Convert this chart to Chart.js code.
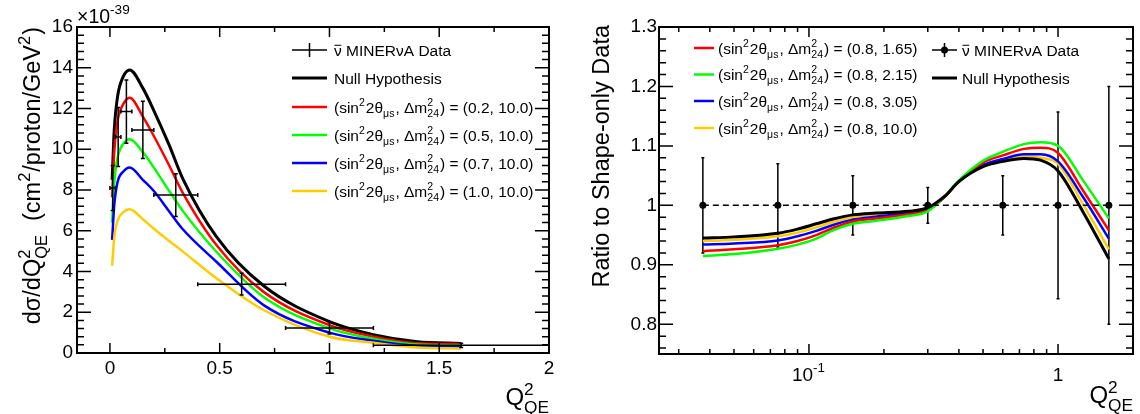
<!DOCTYPE html>
<html><head><meta charset="utf-8">
<script src="https://cdn.jsdelivr.net/npm/chart.js@4/dist/chart.umd.min.js"></script>
<style>
html,body{margin:0;padding:0;background:#fff;}
#wrap{position:relative;width:1140px;height:414px;overflow:hidden;}
canvas{position:absolute;top:0;}
</style>
</head><body>
<div id="wrap">
<canvas id="cl" width="570" height="414" style="left:0px"></canvas>
<canvas id="cr" width="570" height="414" style="left:570px"></canvas>
</div>
<script>
// ---------------- LEFT PANEL DATA ----------------
const leftXTicks = [0, 0.5, 1, 1.5, 2];
const leftXLabels = ['0', '0.5', '1', '1.5', '2'];
const leftYTicks = [0, 2, 4, 6, 8, 10, 12, 14, 16];
const leftYLabels = ['0', '2', '4', '6', '8', '10', '12', '14', '16'];

const dataBinLow  = [0, 0.025, 0.05, 0.1, 0.2, 0.4, 0.8, 1.2];
const dataBinHigh = [0.025, 0.05, 0.1, 0.2, 0.4, 0.8, 1.2, 2.0];
const dataQ2      = [0.0125, 0.0375, 0.075, 0.15, 0.3, 0.6, 1.0, 1.6];
const dataXsec    = [8.1, 10.6, 11.85, 10.95, 7.75, 3.38, 1.23, 0.375];
const dataXsecErr = [1.1, 1.45, 1.55, 1.4, 1.05, 0.53, 0.3, 0.1];

const curveQ2  = [0.01, 0.02, 0.035, 0.06, 0.09, 0.15, 0.2, 0.27, 0.33, 0.485, 0.7, 1.0, 1.2, 1.4, 1.6];
const xsecNull = [8.5, 11.0, 12.6, 13.55, 13.89, 13.0, 11.9, 10.2, 8.6, 5.71, 3.3, 1.54, 0.9, 0.55, 0.47];
const xsecS02  = [7.64, 9.9, 11.4, 12.2, 12.53, 11.6, 10.65, 9.2, 7.9, 5.30, 3.0, 1.37, 0.8, 0.48, 0.43];
const xsecS05  = [6.4, 8.4, 9.6, 10.25, 10.49, 9.85, 9.1, 7.95, 7.0, 4.97, 2.75, 1.21, 0.7, 0.42, 0.38];
const xsecS07  = [5.55, 7.3, 8.4, 8.9, 9.11, 8.5, 7.95, 6.95, 6.1, 4.48, 2.35, 1.0, 0.6, 0.35, 0.32];
const xsecS10  = [4.29, 5.7, 6.5, 6.9, 7.05, 6.56, 6.1, 5.5, 5.0, 3.67, 2.11, 0.80, 0.5, 0.27, 0.22];

const leftSin2 = ['0.2', '0.5', '0.7', '1.0'];
const leftDm2  = ['10.0', '10.0', '10.0', '10.0'];

// ---------------- RIGHT PANEL DATA ----------------
const rightXTicks = [0.1, 1];
const rightXLabels = [['10', {sup: '-1'}], ['1']];
const rightYTicks = [0.8, 0.9, 1.0, 1.1, 1.2, 1.3];
const rightYLabels = ['0.8', '0.9', '1', '1.1', '1.2', '1.3'];

const ratioQ2  = [0.0375, 0.075, 0.15, 0.3, 0.6, 1.0, 1.6];
const ratioVal = [1, 1, 1, 1, 1, 1, 1];
const ratioErr = [0.08, 0.07, 0.05, 0.03, 0.05, 0.157, 0.2];

const ratioCurveQ2 = [0.0375, 0.05, 0.075, 0.09, 0.107, 0.125, 0.15, 0.186, 0.25, 0.3, 0.35, 0.4, 0.5, 0.6, 0.73, 0.85, 1.0, 1.26, 1.6];
const ratioNull = [0.945, 0.947, 0.953, 0.960, 0.969, 0.977, 0.984, 0.987, 0.990, 0.996, 1.015, 1.040, 1.065, 1.074, 1.079, 1.076, 1.058, 0.989, 0.910];
const ratioD165 = [0.923, 0.926, 0.933, 0.940, 0.950, 0.962, 0.973, 0.978, 0.985, 0.992, 1.014, 1.041, 1.072, 1.084, 1.095, 1.097, 1.088, 1.025, 0.958];
const ratioD215 = [0.915, 0.918, 0.927, 0.934, 0.944, 0.958, 0.969, 0.974, 0.982, 0.990, 1.015, 1.042, 1.075, 1.090, 1.103, 1.106, 1.100, 1.042, 0.978];
const ratioD305 = [0.934, 0.936, 0.941, 0.948, 0.957, 0.967, 0.976, 0.981, 0.987, 0.993, 1.014, 1.041, 1.068, 1.078, 1.086, 1.086, 1.074, 1.014, 0.944];
const ratioD100 = [0.940, 0.942, 0.948, 0.954, 0.963, 0.972, 0.980, 0.984, 0.988, 0.994, 1.014, 1.040, 1.066, 1.075, 1.082, 1.080, 1.070, 1.002, 0.926];

const rightSin2 = ['0.8', '0.8', '0.8', '0.8'];
const rightDm2  = ['1.65', '2.15', '3.05', '10.0'];

// ---------------- STYLE ----------------
const FF = '"Liberation Sans", Arial, Helvetica, sans-serif';
const RED = '#ff0000', GREEN = '#00ff00', BLUE = '#0000ff', YEL = '#ffcc00', BLK = '#000000';
Chart.defaults.font.family = FF;
Chart.defaults.color = '#000';

function pts(xs, ys) { return xs.map((x, i) => ({x: x, y: ys[i]})); }
function curve(xs, ys, color, w) {
  return {data: pts(xs, ys), borderColor: color, backgroundColor: color, borderWidth: w,
          showLine: true, pointRadius: 0, pointHoverRadius: 0, fill: false, cubicInterpolationMode: 'monotone'};
}

// rich text: strings are normal text, objects {sup, sub} are stacked scripts
function rich(ctx, x, y, parts, size, o, draw) {
  o = o || {};
  const sr = o.sr || 0.7, up = o.up || 0.40, dn = o.dn || 0.25;
  let cx = x;
  for (const p of parts) {
    if (typeof p === 'string') {
      ctx.font = size + 'px ' + FF;
      if (draw !== false) ctx.fillText(p, cx, y);
      cx += ctx.measureText(p).width;
    } else {
      ctx.font = (size * sr) + 'px ' + FF;
      let w = 0;
      if (p.sup !== undefined) { if (draw !== false) ctx.fillText(p.sup, cx, y - size * up); w = Math.max(w, ctx.measureText(p.sup).width); }
      if (p.sub !== undefined) { if (draw !== false) ctx.fillText(p.sub, cx, y + size * dn); w = Math.max(w, ctx.measureText(p.sub).width); }
      cx += w + 1;
    }
  }
  return cx - x;
}
function oscParts(s, d) {
  return ['(sin', {sup: '2'}, '2\u03B8', {sub: '\u03BCs'}, ', \u0394m', {sup: '2', sub: '24'}, ') = (' + s + ', ' + d + ')'];
}
function nuBarText(ctx, x, y, size) {
  ctx.font = size + 'px ' + FF;
  const w = ctx.measureText('\u03BD').width;
  ctx.fillText('\u03BD', x, y);
  ctx.save(); ctx.lineWidth = 1; ctx.beginPath();
  ctx.moveTo(x + 0.5, y - size * 0.66); ctx.lineTo(x + w - 0.5, y - size * 0.66); ctx.stroke(); ctx.restore();
  ctx.fillText(' MINER\u03BDA Data', x + w, y);
}

function frameAndTicks(chart, cfg) {
  const ctx = chart.ctx, a = chart.chartArea, sx = chart.scales.x, sy = chart.scales.y;
  ctx.save();
  ctx.strokeStyle = '#000'; ctx.lineWidth = 1.5;
  ctx.beginPath();
  const yt = (list, len) => { for (const v of list) { const p = sy.getPixelForValue(v); if (p < a.top - 0.5 || p > a.bottom + 0.5) continue;
      ctx.moveTo(a.left, p); ctx.lineTo(a.left + len, p); ctx.moveTo(a.right, p); ctx.lineTo(a.right - len, p); } };
  const xt = (list, len) => { for (const v of list) { const p = sx.getPixelForValue(v); if (p < a.left - 0.5 || p > a.right + 0.5) continue;
      ctx.moveTo(p, a.bottom); ctx.lineTo(p, a.bottom - len); ctx.moveTo(p, a.top); ctx.lineTo(p, a.top + len); } };
  yt(cfg.yMajor, cfg.yMajLen); yt(cfg.yMinor, cfg.yMinLen);
  xt(cfg.xMajor, cfg.xMajLen); xt(cfg.xMinor, cfg.xMinLen);
  ctx.stroke();
  ctx.lineWidth = 2;
  ctx.strokeRect(a.left, a.top, a.right - a.left, a.bottom - a.top);
  ctx.restore();
}

function baseScale(extra) {
  return Object.assign({
    grid: {display: false, drawTicks: false}, border: {display: false}
  }, extra);
}

// ---------------- LEFT CHART ----------------
const leftMinorY = []; for (let v = 0; v <= 16.001; v += 0.4) if (Math.abs(v / 2 - Math.round(v / 2)) > 0.01) leftMinorY.push(v);
const leftMinorX = [0.25, 0.75, 1.25, 1.75];

const leftPlugin = {
  id: 'leftDeco',
  afterDatasetsDraw(chart) {
    const ctx = chart.ctx, sx = chart.scales.x, sy = chart.scales.y, a = chart.chartArea;
    ctx.save(); ctx.strokeStyle = '#000'; ctx.lineWidth = 1.5; ctx.beginPath();
    for (let i = 0; i < dataQ2.length; i++) {
      const px = sx.getPixelForValue(dataQ2[i]), py = sy.getPixelForValue(dataXsec[i]);
      const x1 = sx.getPixelForValue(dataBinLow[i]), x2 = Math.min(sx.getPixelForValue(dataBinHigh[i]), a.right);
      const y1 = sy.getPixelForValue(dataXsec[i] - dataXsecErr[i]), y2 = sy.getPixelForValue(dataXsec[i] + dataXsecErr[i]);
      ctx.moveTo(x1, py); ctx.lineTo(x2, py);
      ctx.moveTo(px, y1); ctx.lineTo(px, y2);
      ctx.moveTo(x1, py - 2); ctx.lineTo(x1, py + 2);
      ctx.moveTo(x2, py - 2); ctx.lineTo(x2, py + 2);
      ctx.moveTo(px - 2, y1); ctx.lineTo(px + 2, y1);
      ctx.moveTo(px - 2, y2); ctx.lineTo(px + 2, y2);
    }
    ctx.stroke(); ctx.restore();
  },
  afterDraw(chart) {
    const ctx = chart.ctx;
    frameAndTicks(chart, {yMajor: leftYTicks, yMinor: leftMinorY, yMajLen: 14, yMinLen: 7,
                          xMajor: leftXTicks, xMinor: leftMinorX, xMajLen: 10, xMinLen: 5});
    ctx.save(); ctx.fillStyle = '#000'; ctx.strokeStyle = '#000'; ctx.textBaseline = 'alphabetic';
    rich(ctx, 77, 23, ['\u00D710', {sup: '-39'}], 19.5, {sr: 0.7, up: 0.45});
    const rows = [50, 78, 107, 135, 163, 191];
    const LS = 15.5, lx1 = 292, lx2 = 327, tx = 334;
    ctx.lineWidth = 1.5; ctx.beginPath();
    ctx.moveTo(lx1, rows[0]); ctx.lineTo(lx2, rows[0]);
    ctx.moveTo((lx1 + lx2) / 2, rows[0] - 7); ctx.lineTo((lx1 + lx2) / 2, rows[0] + 7); ctx.stroke();
    nuBarText(ctx, tx, rows[0] + 5.5, LS);
    const cols = [BLK, RED, GREEN, BLUE, YEL];
    for (let i = 0; i < 5; i++) {
      ctx.strokeStyle = cols[i]; ctx.lineWidth = i === 0 ? 3 : 2.5; ctx.beginPath();
      ctx.moveTo(lx1, rows[i + 1]); ctx.lineTo(lx2, rows[i + 1]); ctx.stroke();
      ctx.fillStyle = '#000';
      if (i === 0) { ctx.font = LS + 'px ' + FF; ctx.fillText('Null Hypothesis', tx, rows[1] + 5.5); }
      else rich(ctx, tx, rows[i + 1] + 5.5, oscParts(leftSin2[i - 1], leftDm2[i - 1]), LS, {sr: 0.68, up: 0.42, dn: 0.28});
    }
    const yParts = ['d\u03C3/dQ', {sup: '2', sub: 'QE'}, '  (cm', {sup: '2'}, '/proton/GeV', {sup: '2'}, ')'];
    const TS = 23.5;
    const w = rich(ctx, 0, 0, yParts, TS, {sr: 0.7, up: 0.42, dn: 0.3}, false);
    ctx.save(); ctx.translate(40, 27 + w); ctx.rotate(-Math.PI / 2);
    rich(ctx, 0, 0, yParts, TS, {sr: 0.7, up: 0.42, dn: 0.3});
    ctx.restore();
    const xParts = ['Q', {sup: '2', sub: 'QE'}];
    const wx = rich(ctx, 0, 0, xParts, 24, {sr: 0.72, up: 0.42, dn: 0.33}, false);
    rich(ctx, 549 - wx + 1, 405, xParts, 24, {sr: 0.72, up: 0.42, dn: 0.33});
    ctx.restore();
  }
};

new Chart(document.getElementById('cl'), {
  type: 'scatter',
  data: {datasets: [
    curve(curveQ2, xsecS10, YEL, 2.5),
    curve(curveQ2, xsecS07, BLUE, 2.5),
    curve(curveQ2, xsecS05, GREEN, 2.5),
    curve(curveQ2, xsecS02, RED, 2.5),
    curve(curveQ2, xsecNull, BLK, 3)
  ]},
  options: {
    responsive: false, animation: false, devicePixelRatio: 1,
    layout: {padding: {left: 0, right: 21, top: 27, bottom: 0}},
    plugins: {legend: {display: false}, tooltip: {enabled: false}},
    scales: {
      x: baseScale({type: 'linear', min: -0.15, max: 2,
        afterBuildTicks: s => { s.ticks = leftXTicks.map(v => ({value: v})); },
        afterFit: s => { s.height = 61; },
        ticks: {callback: (v, i) => leftXLabels[i], font: {size: 19}, padding: 4, maxRotation: 0, autoSkip: false, color: '#000'}}),
      y: baseScale({type: 'linear', min: 0, max: 16,
        afterBuildTicks: s => { s.ticks = leftYTicks.map(v => ({value: v})); },
        afterFit: s => { s.width = 77; },
        ticks: {callback: (v, i) => leftYLabels[i], font: {size: 19}, padding: 4, autoSkip: false, color: '#000'}})
    }
  },
  plugins: [leftPlugin]
});

// ---------------- RIGHT CHART ----------------
const rightMinorY = []; for (let k = 76; k <= 130; k += 2) if (k % 10 !== 0) rightMinorY.push(k / 100);
const rightMinorX = [0.03, 0.04, 0.05, 0.06, 0.07, 0.08, 0.09, 0.2, 0.3, 0.4, 0.5, 0.6, 0.7, 0.8, 0.9, 2];

const rightPlugin = {
  id: 'rightDeco',
  beforeDatasetsDraw(chart) {
    const ctx = chart.ctx, sx = chart.scales.x, sy = chart.scales.y;
    ctx.save(); ctx.strokeStyle = '#000'; ctx.lineWidth = 1.5; ctx.beginPath();
    for (let i = 0; i < ratioQ2.length; i++) {
      const px = sx.getPixelForValue(ratioQ2[i]);
      const y1 = sy.getPixelForValue(ratioVal[i] - ratioErr[i]), y2 = sy.getPixelForValue(ratioVal[i] + ratioErr[i]);
      ctx.moveTo(px, y1); ctx.lineTo(px, y2);
      ctx.moveTo(px - 1.5, y1); ctx.lineTo(px + 1.5, y1);
      ctx.moveTo(px - 1.5, y2); ctx.lineTo(px + 1.5, y2);
    }
    ctx.stroke(); ctx.restore();
  },
  afterDraw(chart) {
    const ctx = chart.ctx, sx = chart.scales.x, a = chart.chartArea;
    frameAndTicks(chart, {yMajor: rightYTicks, yMinor: rightMinorY, yMajLen: 14, yMinLen: 7,
                          xMajor: rightXTicks, xMinor: rightMinorX, xMajLen: 10, xMinLen: 5});
    ctx.save(); ctx.fillStyle = '#000'; ctx.textBaseline = 'alphabetic';
    // x tick labels (with superscript exponent), placed by the log scale
    for (let i = 0; i < rightXTicks.length; i++) {
      const o = {sr: 0.7, up: 0.45};
      const w = rich(ctx, 0, 0, rightXLabels[i], 19, o, false);
      const px = sx.getPixelForValue(rightXTicks[i]);
      rich(ctx, px - w / 2, a.bottom + 27, rightXLabels[i], 19, o);
    }
    const LS = 15.5;
    const rows1 = [48, 74.5, 101, 128];
    const cols = [RED, GREEN, BLUE, YEL];
    const ox = 570;
    for (let i = 0; i < 4; i++) {
      ctx.strokeStyle = cols[i]; ctx.lineWidth = 2.5; ctx.beginPath();
      ctx.moveTo(694 - ox, rows1[i]); ctx.lineTo(714 - ox, rows1[i]); ctx.stroke();
      rich(ctx, 718 - ox, rows1[i] + 5.5, oscParts(rightSin2[i], rightDm2[i]), LS, {sr: 0.68, up: 0.42, dn: 0.28});
    }
    const r2 = [50, 78];
    ctx.strokeStyle = '#000'; ctx.lineWidth = 1.5; ctx.beginPath();
    ctx.moveTo(932 - ox, r2[0]); ctx.lineTo(957 - ox, r2[0]);
    ctx.moveTo(944.5 - ox, r2[0] - 7); ctx.lineTo(944.5 - ox, r2[0] + 7); ctx.stroke();
    ctx.beginPath(); ctx.arc(944.5 - ox, r2[0], 3.5, 0, Math.PI * 2); ctx.fill();
    nuBarText(ctx, 962 - ox, r2[0] + 5.5, LS);
    ctx.lineWidth = 3; ctx.beginPath(); ctx.moveTo(932 - ox, r2[1]); ctx.lineTo(957 - ox, r2[1]); ctx.stroke();
    ctx.font = LS + 'px ' + FF; ctx.fillText('Null Hypothesis', 962 - ox, r2[1] + 5.5);
    ctx.font = '23.5px ' + FF;
    const t = 'Ratio to Shape-only Data';
    const w = ctx.measureText(t).width;
    ctx.save(); ctx.translate(609 - ox, 25 + w); ctx.rotate(-Math.PI / 2); ctx.fillText(t, 0, 0); ctx.restore();
    const xParts = ['Q', {sup: '2', sub: 'QE'}];
    const wx = rich(ctx, 0, 0, xParts, 24, {sr: 0.72, up: 0.42, dn: 0.33}, false);
    rich(ctx, 1133 - ox - wx + 1, 403, xParts, 24, {sr: 0.72, up: 0.42, dn: 0.33});
    ctx.restore();
  }
};

new Chart(document.getElementById('cr'), {
  type: 'scatter',
  data: {datasets: [
    {data: [{x: ratioQ2[0], y: 1}, {x: ratioQ2[ratioQ2.length - 1], y: 1}], borderColor: '#000', borderWidth: 1.5,
     borderDash: [6, 4], showLine: true, pointRadius: 0, fill: false},
    curve(ratioCurveQ2, ratioNull, BLK, 3),
    curve(ratioCurveQ2, ratioD215, GREEN, 2.5),
    curve(ratioCurveQ2, ratioD165, RED, 2.5),
    curve(ratioCurveQ2, ratioD305, BLUE, 2.5),
    curve(ratioCurveQ2, ratioD100, YEL, 2.5),
    {data: pts(ratioQ2, ratioVal), pointRadius: 3.5, pointBackgroundColor: '#000', pointBorderWidth: 0,
     pointBorderColor: '#000', showLine: false}
  ]},
  options: {
    responsive: false, animation: false, devicePixelRatio: 1,
    layout: {padding: {left: 0, right: 7, top: 27, bottom: 0}},
    plugins: {legend: {display: false}, tooltip: {enabled: false}},
    scales: {
      x: baseScale({type: 'logarithmic', min: 0.025, max: 2,
        afterBuildTicks: s => { s.ticks = rightXTicks.map(v => ({value: v})); },
        afterFit: s => { s.height = 60; },
        ticks: {display: false}}),
      y: baseScale({type: 'linear', min: 0.75, max: 1.3,
        afterBuildTicks: s => { s.ticks = rightYTicks.map(v => ({value: v})); },
        afterFit: s => { s.width = 89; },
        ticks: {callback: (v, i) => rightYLabels[i], font: {size: 19}, padding: 2, autoSkip: false, color: '#000'}})
    }
  },
  plugins: [rightPlugin]
});
</script>
</body></html>
